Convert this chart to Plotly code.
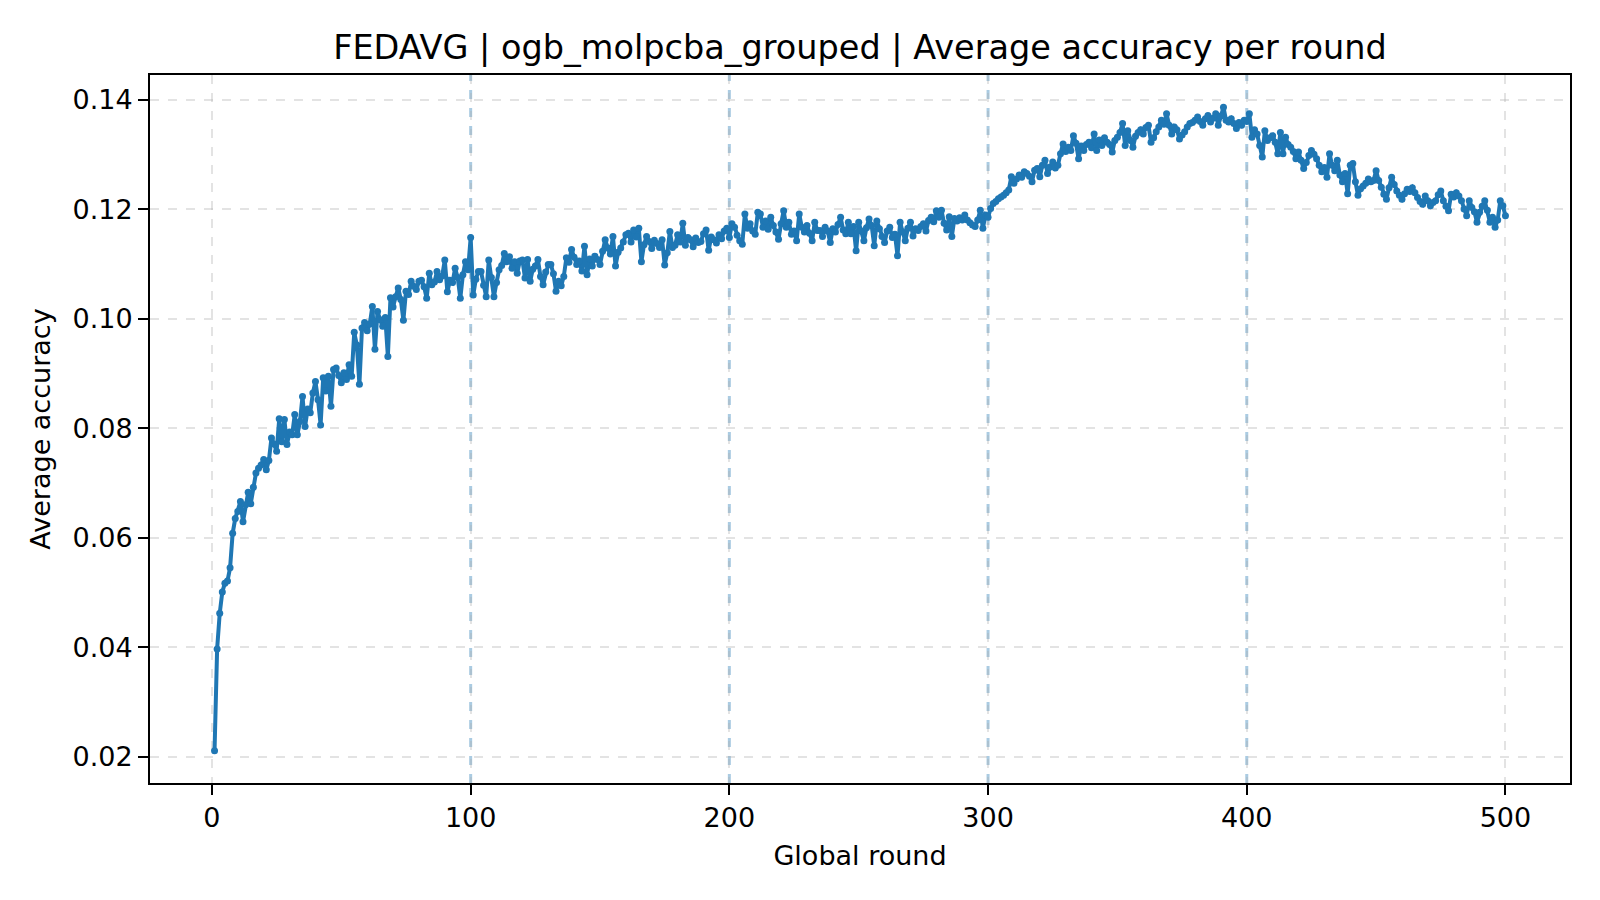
import plotly.graph_objects as go

rounds = list(range(1, 501))

acc_001_100 = [
    0.0211, 0.0397, 0.0462, 0.0501, 0.0517, 0.0521, 0.0545, 0.0608, 0.0635, 0.0648,
    0.0666, 0.0629, 0.0660, 0.0683, 0.0662, 0.0692, 0.0718, 0.0727, 0.0733, 0.0743,
    0.0724, 0.0741, 0.0782, 0.0771, 0.0758, 0.0817, 0.0775, 0.0816, 0.0770, 0.0793,
    0.0788, 0.0825, 0.0788, 0.0812, 0.0858, 0.0803, 0.0835, 0.0828, 0.0864, 0.0885,
    0.0852, 0.0806, 0.0892, 0.0868, 0.0895, 0.0840, 0.0907, 0.0910, 0.0896, 0.0883,
    0.0901, 0.0889, 0.0916, 0.0895, 0.0975, 0.0952, 0.0880, 0.0983, 0.0993, 0.0978,
    0.0990, 0.1022, 0.0944, 0.1013, 0.0998, 0.0986, 0.1002, 0.0931, 0.1038, 0.1021,
    0.1040, 0.1056, 0.1035, 0.0997, 0.1050, 0.1044, 0.1068, 0.1059, 0.1053, 0.1068,
    0.1070, 0.1058, 0.1037, 0.1083, 0.1062, 0.1067, 0.1086, 0.1071, 0.1078, 0.1107,
    0.1049, 0.1070, 0.1066, 0.1092, 0.1075, 0.1037, 0.1080, 0.1104, 0.1089, 0.1148,
]
acc_101_200 = [
    0.1043, 0.1072, 0.1086, 0.1086, 0.1061, 0.1040, 0.1107, 0.1075, 0.1040, 0.1066,
    0.1089, 0.1097, 0.1119, 0.1104, 0.1113, 0.1092, 0.1104, 0.1083, 0.1105, 0.1107,
    0.1074, 0.1108, 0.1068, 0.1090, 0.1096, 0.1108, 0.1077, 0.1062, 0.1085, 0.1099,
    0.1099, 0.1082, 0.1050, 0.1068, 0.1060, 0.1077, 0.1111, 0.1103, 0.1126, 0.1112,
    0.1099, 0.1105, 0.1087, 0.1132, 0.1080, 0.1109, 0.1096, 0.1114, 0.1108, 0.1099,
    0.1123, 0.1144, 0.1129, 0.1118, 0.1150, 0.1096, 0.1121, 0.1129, 0.1140, 0.1153,
    0.1156, 0.1140, 0.1162, 0.1149, 0.1165, 0.1104, 0.1135, 0.1150, 0.1141, 0.1128,
    0.1143, 0.1137, 0.1130, 0.1144, 0.1098, 0.1120, 0.1159, 0.1130, 0.1134, 0.1153,
    0.1140, 0.1174, 0.1134, 0.1148, 0.1144, 0.1131, 0.1147, 0.1139, 0.1141, 0.1155,
    0.1162, 0.1125, 0.1149, 0.1144, 0.1138, 0.1153, 0.1146, 0.1160, 0.1165, 0.1148,
]
acc_201_300 = [
    0.1173, 0.1167, 0.1152, 0.1142, 0.1136, 0.1191, 0.1165, 0.1173, 0.1160, 0.1154,
    0.1194, 0.1191, 0.1167, 0.1178, 0.1163, 0.1185, 0.1170, 0.1158, 0.1145, 0.1173,
    0.1197, 0.1167, 0.1176, 0.1154, 0.1160, 0.1142, 0.1191, 0.1167, 0.1158, 0.1170,
    0.1156, 0.1142, 0.1176, 0.1161, 0.1161, 0.1150, 0.1167, 0.1160, 0.1139, 0.1164,
    0.1158, 0.1172, 0.1185, 0.1162, 0.1155, 0.1176, 0.1155, 0.1168, 0.1124, 0.1176,
    0.1160, 0.1142, 0.1166, 0.1182, 0.1170, 0.1133, 0.1178, 0.1164, 0.1150, 0.1139,
    0.1160, 0.1167, 0.1148, 0.1154, 0.1115, 0.1176, 0.1158, 0.1142, 0.1165, 0.1176,
    0.1151, 0.1164, 0.1161, 0.1168, 0.1173, 0.1160, 0.1179, 0.1185, 0.1177, 0.1197,
    0.1185, 0.1198, 0.1174, 0.1162, 0.1186, 0.1150, 0.1183, 0.1178, 0.1184, 0.1180,
    0.1189, 0.1180, 0.1175, 0.1171, 0.1168, 0.1180, 0.1198, 0.1165, 0.1189, 0.1185,
]
acc_301_400 = [
    0.1201, 0.1210, 0.1214, 0.1219, 0.1222, 0.1225, 0.1230, 0.1235, 0.1259, 0.1247,
    0.1255, 0.1262, 0.1258, 0.1268, 0.1265, 0.1260, 0.1250, 0.1271, 0.1274, 0.1259,
    0.1280, 0.1289, 0.1265, 0.1277, 0.1286, 0.1275, 0.1280, 0.1301, 0.1319, 0.1305,
    0.1313, 0.1307, 0.1334, 0.1320, 0.1292, 0.1315, 0.1307, 0.1318, 0.1322, 0.1312,
    0.1337, 0.1307, 0.1326, 0.1316, 0.1330, 0.1322, 0.1318, 0.1304, 0.1325, 0.1331,
    0.1340, 0.1356, 0.1316, 0.1343, 0.1325, 0.1313, 0.1333, 0.1340, 0.1345, 0.1337,
    0.1349, 0.1353, 0.1322, 0.1330, 0.1341, 0.1350, 0.1362, 0.1355, 0.1374, 0.1353,
    0.1337, 0.1350, 0.1345, 0.1328, 0.1335, 0.1341, 0.1350, 0.1356, 0.1358, 0.1362,
    0.1368, 0.1360, 0.1353, 0.1365, 0.1371, 0.1359, 0.1366, 0.1374, 0.1353, 0.1370,
    0.1386, 0.1362, 0.1359, 0.1365, 0.1356, 0.1347, 0.1358, 0.1353, 0.1362, 0.1360,
]
acc_401_500 = [
    0.1374, 0.1331, 0.1345, 0.1337, 0.1316, 0.1295, 0.1343, 0.1325, 0.1330, 0.1334,
    0.1322, 0.1301, 0.1340, 0.1301, 0.1331, 0.1318, 0.1313, 0.1305, 0.1292, 0.1304,
    0.1289, 0.1274, 0.1285, 0.1298, 0.1307, 0.1300, 0.1292, 0.1280, 0.1268, 0.1276,
    0.1258, 0.1301, 0.1280, 0.1270, 0.1289, 0.1262, 0.1250, 0.1265, 0.1228, 0.1280,
    0.1283, 0.1250, 0.1225, 0.1237, 0.1242, 0.1247, 0.1255, 0.1250, 0.1252, 0.1270,
    0.1252, 0.1240, 0.1227, 0.1218, 0.1239, 0.1258, 0.1245, 0.1233, 0.1225, 0.1218,
    0.1228, 0.1236, 0.1232, 0.1239, 0.1230, 0.1221, 0.1214, 0.1209, 0.1224, 0.1215,
    0.1206, 0.1212, 0.1215, 0.1226, 0.1233, 0.1215, 0.1205, 0.1197, 0.1227, 0.1222,
    0.1230, 0.1224, 0.1215, 0.1200, 0.1188, 0.1215, 0.1203, 0.1195, 0.1176, 0.1194,
    0.1205, 0.1215, 0.1198, 0.1176, 0.1185, 0.1167, 0.1180, 0.1215, 0.1206, 0.1188,
]
accuracy = acc_001_100 + acc_101_200 + acc_201_300 + acc_301_400 + acc_401_500

phase_boundaries = [100, 200, 300, 400]
x_ticks = [0, 100, 200, 300, 400, 500]
y_ticks = [0.02, 0.04, 0.06, 0.08, 0.10, 0.12, 0.14]

title_text = "FEDAVG | ogb_molpcba_grouped | Average accuracy per round"
x_label = "Global round"
y_label = "Average accuracy"

BLUE = "#1f77b4"
FONT = "DejaVu Sans"

fig = go.Figure()
fig.add_trace(go.Scatter(
    x=rounds, y=accuracy, mode="lines+markers",
    line=dict(color=BLUE, width=4),
    marker=dict(color=BLUE, size=7),
    showlegend=False, hoverinfo="x+y",
))

for b in phase_boundaries:
    fig.add_shape(type="line", xref="x", yref="paper", x0=b, x1=b, y0=0, y1=1,
                  line=dict(color="rgba(31,119,180,0.38)", width=3, dash="dash"),
                  layer="below")

# axis range with matplotlib-like 5% margins
xmin, xmax = min(rounds), max(rounds)
ymin, ymax = min(accuracy), max(accuracy)
xpad = 0.05 * (xmax - xmin)
ypad = 0.05 * (ymax - ymin)

axis_common = dict(
    showline=True, linecolor="black", linewidth=2, mirror=True,
    ticks="outside", ticklen=10, tickwidth=2, tickcolor="black",
    showgrid=True, gridcolor="rgba(176,176,176,0.35)", gridwidth=2, griddash="dash",
    zeroline=False,
    tickfont=dict(family=FONT, size=27, color="black"),
)

fig.update_layout(
    width=1600, height=900,
    margin=dict(l=150, r=30, t=75, b=117),
    paper_bgcolor="white", plot_bgcolor="white",
    font=dict(family=FONT, color="black"),
    title=dict(text=title_text, x=0.5375, xanchor="center", xref="container",
               y=1 - 47 / 900, yanchor="middle", yref="container",
               font=dict(family=FONT, size=33.5, color="black")),
    xaxis=dict(range=[xmin - xpad, xmax + xpad], tickvals=x_ticks,
               title=dict(text=x_label, font=dict(family=FONT, size=27), standoff=14),
               **axis_common),
    yaxis=dict(range=[ymin - ypad, ymax + ypad], tickvals=y_ticks, tickformat=".2f",
               title=dict(text=y_label, font=dict(family=FONT, size=27), standoff=14),
               **axis_common),
)

fig.write_html("out.html")
